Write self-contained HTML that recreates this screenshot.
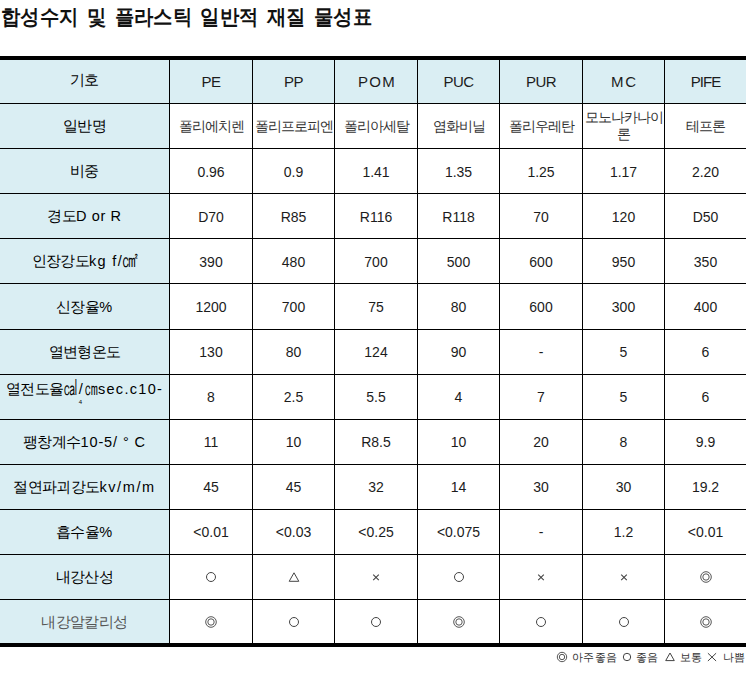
<!DOCTYPE html>
<html lang="ko">
<head>
<meta charset="utf-8">
<title>합성수지 및 플라스틱 일반적 재질 물성표</title>
<style>
html,body{margin:0;padding:0;background:#fff;}
body{width:746px;height:677px;position:relative;overflow:hidden;font-family:"Liberation Sans",sans-serif;color:#000;}
h1{position:absolute;left:1px;top:3px;margin:0;font-size:21px;line-height:27px;font-weight:bold;white-space:nowrap;color:#111;transform:scaleX(0.92);transform-origin:0 0;word-spacing:3.4px;width:403px;text-align:justify;text-align-last:justify;text-justify:inter-character;}
table{position:absolute;left:0;top:56px;width:746px;border-collapse:separate;border-spacing:0;table-layout:fixed;border-top:4px solid #000;border-bottom:4px solid #000;}
td,th{box-sizing:border-box;padding:0;margin:0;text-align:center;vertical-align:middle;border-right:1px solid #000;border-bottom:1px solid #000;font-weight:normal;font-size:14px;line-height:16px;overflow:hidden;white-space:nowrap;color:#1c1c1c;}
td:last-child,th:last-child{border-right:none;}
tr:last-child td,tr:last-child th{border-bottom:none;}
th{background:#daeef3;}
th.t{font-size:15px;letter-spacing:-0.5px;}
th.h{font-size:14.5px;letter-spacing:-0.65px;color:#000;}
th.h .l{letter-spacing:0.9px;}
th.h .u{position:relative;top:-1.5px;}
tr.r44 > *{height:44px;} tr.r45 > *{height:45px;} tr.r46 > *{height:46px;} tr.r43 > *{height:43px;}
td{padding-top:1px;}
tr.up td{padding-top:0;}
td.k{font-size:13.5px;letter-spacing:-1px;color:#333;line-height:17px;padding-top:0;}
td.s{padding-top:0;}
td.s svg{display:block;margin:0 auto;}
.legend{position:absolute;left:0;top:649px;width:746px;height:16px;font-size:11.3px;letter-spacing:0.3px;line-height:16px;color:#333;white-space:nowrap;}
.legend span,.legend svg{position:absolute;top:0;}
.gray{color:#555 !important;}
th.h .q{display:inline-block;transform:scale(1.12,1.5);transform-origin:50% 72%;}
.p4{display:block;font-size:6px;line-height:16px;height:16px;letter-spacing:0;position:relative;left:-4px;top:-3px;}
</style>
</head>
<body>
<svg width="0" height="0" style="position:absolute">
<defs>
<symbol id="o" viewBox="0 0 14 14"><circle cx="7" cy="7" r="4.5" fill="none" stroke="#444" stroke-width="1"/></symbol>
<symbol id="oo" viewBox="0 0 14 14"><circle cx="7" cy="7" r="5.3" fill="none" stroke="#444" stroke-width="0.9"/><circle cx="7" cy="7" r="3.2" fill="none" stroke="#444" stroke-width="0.9"/></symbol>
<symbol id="tr" viewBox="0 0 14 14"><path d="M7 2.8 L11.8 11.3 L2.2 11.3 Z" fill="none" stroke="#444" stroke-width="1" stroke-linejoin="miter"/></symbol>
<symbol id="x" viewBox="0 0 14 14"><path d="M4.2 4.6 L9.8 10.2 M9.8 4.6 L4.2 10.2" fill="none" stroke="#444" stroke-width="1.1"/></symbol>
</defs>
</svg>
<h1>합성수지 및 플라스틱 일반적 재질 물성표</h1>
<table>
<colgroup><col style="width:170px"><col style="width:83px"><col style="width:82px"><col style="width:83px"><col style="width:82px"><col style="width:83px"><col style="width:82px"><col style="width:81px"></colgroup>
<tr class="r44"><th class="h"><span class="u">기호</span></th><th class="t">PE</th><th class="t">PP</th><th class="t" style="letter-spacing:1.2px;padding-left:2px">POM</th><th class="t">PUC</th><th class="t">PUR</th><th class="t" style="letter-spacing:1.8px;padding-left:2px">MC</th><th class="t" style="letter-spacing:-1px">PIFE</th></tr>
<tr class="r45"><th class="h">일반명</th><td class="k">폴리에치렌</td><td class="k">폴리프로피엔</td><td class="k">폴리아세탈</td><td class="k">염화비닐</td><td class="k">폴리우레탄</td><td class="k">모노나카나이<br>론</td><td class="k">테프론</td></tr>
<tr class="r45"><th class="h">비중</th><td>0.96</td><td>0.9</td><td>1.41</td><td>1.35</td><td>1.25</td><td>1.17</td><td>2.20</td></tr>
<tr class="r45"><th class="h">경도<span class="l" style="letter-spacing:0.6px">D or R</span></th><td>D70</td><td>R85</td><td>R116</td><td>R118</td><td>70</td><td>120</td><td>D50</td></tr>
<tr class="r45"><th class="h">인장강도<span class="l" style="letter-spacing:1.3px">kg f/</span><span class="q">㎠</span></th><td>390</td><td>480</td><td>700</td><td>500</td><td>600</td><td>950</td><td>350</td></tr>
<tr class="r46"><th class="h">신장율<span class="l">%</span></th><td>1200</td><td>700</td><td>75</td><td>80</td><td>600</td><td>300</td><td>400</td></tr>
<tr class="r45 up"><th class="h">열변형온도</th><td>130</td><td>80</td><td>124</td><td>90</td><td>-</td><td>5</td><td>6</td></tr>
<tr class="r45 up"><th class="h">열전도율<span class="q" style="transform:scale(1,1.5);margin-right:1px">㎈</span><span class="l">/</span><span class="q" style="transform:scale(1,1.5)">㎝</span><span class="l" style="letter-spacing:1.3px">sec.c10-</span><span class="p4">4</span></th><td>8</td><td>2.5</td><td>5.5</td><td>4</td><td>7</td><td>5</td><td>6</td></tr>
<tr class="r45 up"><th class="h">팽창계수<span class="l">10-5/ ° C</span></th><td>11</td><td>10</td><td>R8.5</td><td>10</td><td>20</td><td>8</td><td>9.9</td></tr>
<tr class="r45 up"><th class="h">절연파괴강도<span class="l" style="letter-spacing:1.6px">kv/m/m</span></th><td>45</td><td>45</td><td>32</td><td>14</td><td>30</td><td>30</td><td>19.2</td></tr>
<tr class="r45 up"><th class="h">흡수율<span class="l">%</span></th><td>&lt;0.01</td><td>&lt;0.03</td><td>&lt;0.25</td><td>&lt;0.075</td><td>-</td><td>1.2</td><td>&lt;0.01</td></tr>
<tr class="r45 up"><th class="h">내강산성</th><td class="s"><svg width="14" height="14"><use href="#o"/></svg></td><td class="s"><svg width="14" height="14"><use href="#tr"/></svg></td><td class="s"><svg width="14" height="14"><use href="#x"/></svg></td><td class="s"><svg width="14" height="14"><use href="#o"/></svg></td><td class="s"><svg width="14" height="14"><use href="#x"/></svg></td><td class="s"><svg width="14" height="14"><use href="#x"/></svg></td><td class="s"><svg width="14" height="14"><use href="#oo"/></svg></td></tr>
<tr class="r43 up"><th class="h gray">내강알칼리성</th><td class="s"><svg width="14" height="14"><use href="#oo"/></svg></td><td class="s"><svg width="14" height="14"><use href="#o"/></svg></td><td class="s"><svg width="14" height="14"><use href="#o"/></svg></td><td class="s"><svg width="14" height="14"><use href="#oo"/></svg></td><td class="s"><svg width="14" height="14"><use href="#o"/></svg></td><td class="s"><svg width="14" height="14"><use href="#o"/></svg></td><td class="s"><svg width="14" height="14"><use href="#oo"/></svg></td></tr>
</table>
<div class="legend">
<svg width="16" height="16" viewBox="0 0 16 16" style="left:553.8px;top:-0.2px"><circle cx="8" cy="8" r="4.7" fill="none" stroke="#444" stroke-width="0.9"/><circle cx="8" cy="8" r="2.7" fill="none" stroke="#444" stroke-width="0.9"/></svg><span style="left:572px">아주좋음</span>
<svg width="16" height="16" viewBox="0 0 16 16" style="left:619.2px;top:-0.2px"><circle cx="8" cy="8" r="3.7" fill="none" stroke="#444" stroke-width="1"/></svg><span style="left:636px">좋음</span>
<svg width="16" height="16" viewBox="0 0 16 16" style="left:662px;top:-0.2px"><path d="M8 4 L12.3 11.6 L3.7 11.6 Z" fill="none" stroke="#444" stroke-width="1"/></svg><span style="left:679.5px">보통</span>
<svg width="16" height="16" viewBox="0 0 16 16" style="left:704.2px;top:-0.2px"><path d="M3.9 4.2 L12.1 12 M12.1 4.2 L3.9 12" fill="none" stroke="#444" stroke-width="1"/></svg><span style="left:722.5px">나쁨</span>
</div>
</body>
</html>
